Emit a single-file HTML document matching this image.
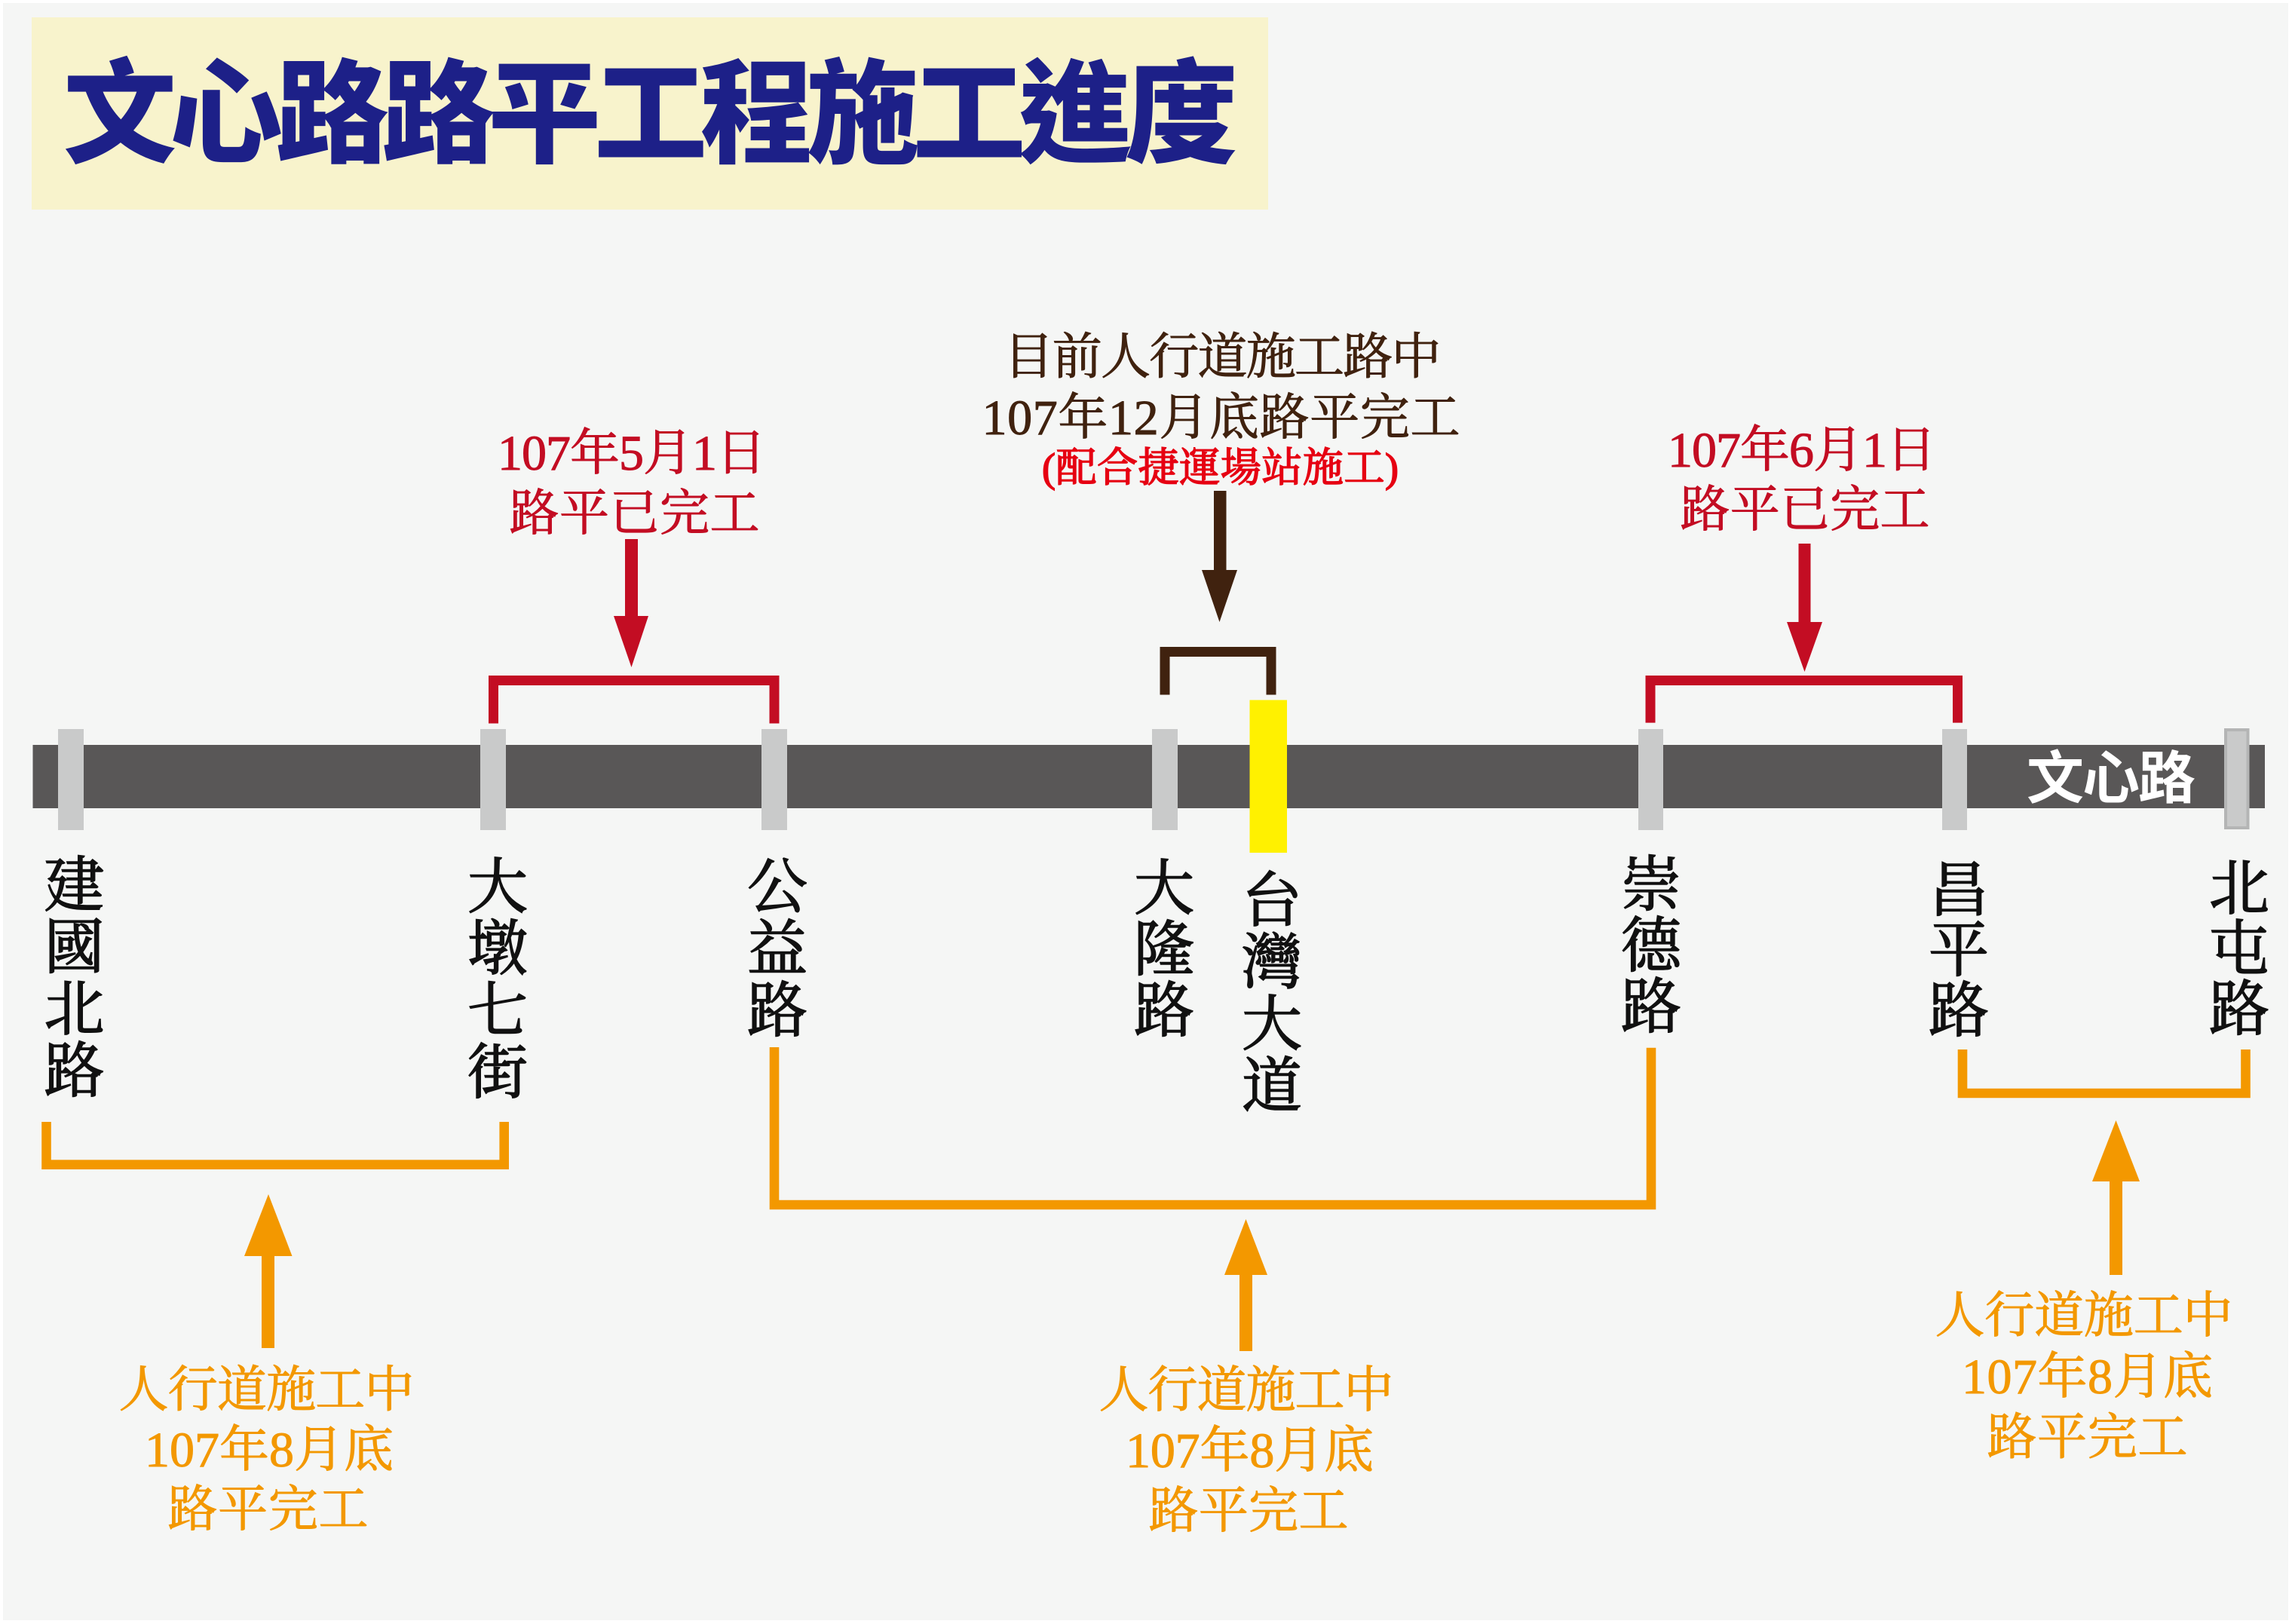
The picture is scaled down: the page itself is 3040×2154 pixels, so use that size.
<!DOCTYPE html>
<html>
<head>
<meta charset="utf-8">
<style>
  html,body{margin:0;padding:0;background:#ffffff;}
  body{width:3040px;height:2154px;overflow:hidden;}
  svg{display:block;}
  .ser{font-family:"Liberation Serif","Noto Serif CJK SC","Noto Sans CJK TC",serif;}
  .sans{font-family:"Liberation Sans","Noto Sans CJK TC",sans-serif;}
</style>
</head>
<body>
<svg width="3040" height="2154" viewBox="0 0 3040 2154" xmlns="http://www.w3.org/2000/svg">
  <!-- background -->
  <rect x="0" y="0" width="3040" height="2154" fill="#ffffff"/>
  <rect x="4" y="4" width="3031" height="2145" fill="#f5f6f5"/>

  <!-- title -->
  <rect x="42" y="23" width="1640" height="255" fill="#f8f3cc"/>
  <text class="sans" x="863" y="204" font-size="150" font-weight="900" fill="#1d2088" text-anchor="middle" textLength="1558" lengthAdjust="spacing">文心路路平工程施工進度</text>

  <!-- main bar -->
  <rect x="43.5" y="988" width="2960.5" height="84" fill="#595757"/>

  <!-- ticks -->
  <g fill="#c9caca">
    <rect x="77" y="967" width="34" height="134"/>
    <rect x="637" y="967" width="34" height="134"/>
    <rect x="1010" y="967" width="34" height="134"/>
    <rect x="1528" y="967" width="34" height="134"/>
    <rect x="2173" y="967" width="33" height="134"/>
    <rect x="2576" y="967" width="33" height="134"/>
  </g>
  <rect x="2952" y="968" width="29.5" height="130" fill="#c9caca" stroke="#b4b5b5" stroke-width="4"/>
  <rect x="1657.5" y="928.5" width="49.5" height="202.5" fill="#fff100"/>

  <text class="sans" x="2800" y="1059" font-size="76" font-weight="700" fill="#ffffff" text-anchor="middle" textLength="224" lengthAdjust="spacing">文心路</text>

  <!-- red brackets -->
  <g fill="none" stroke="#c30d23" stroke-width="13" stroke-linejoin="miter" stroke-linecap="butt">
    <path d="M654.5 959.5 V902.5 H1027 V959.5"/>
    <path d="M2189 958.6 V902.5 H2596.5 V958.6"/>
  </g>
  <!-- red arrows -->
  <g fill="#c30d23">
    <rect x="829" y="715" width="17" height="103"/>
    <polygon points="814,817 860,817 837.5,885"/>
    <rect x="2385.5" y="721" width="16" height="105"/>
    <polygon points="2370,825 2417,825 2393.5,891"/>
  </g>

  <!-- brown bracket & arrow -->
  <path d="M1545 921.5 V864.5 H1686 V921.5" fill="none" stroke="#40220f" stroke-width="13" stroke-linejoin="miter"/>
  <g fill="#40220f">
    <rect x="1610" y="651" width="16.5" height="106"/>
    <polygon points="1594,756 1641,756 1617.5,825"/>
  </g>

  <!-- orange brackets -->
  <g fill="none" stroke="#f39800" stroke-width="12.6" stroke-linejoin="miter" stroke-linecap="butt">
    <path d="M61.5 1488 V1544.7 H668.7 V1488"/>
    <path d="M1027 1389 V1598 H2190 V1389.7"/>
    <path d="M2603 1392 V1450 H2978.5 V1392"/>
  </g>
  <!-- orange arrows -->
  <g fill="#f39800">
    <rect x="347" y="1665" width="17" height="123"/>
    <polygon points="324,1666 387.5,1666 356,1584"/>
    <rect x="1644" y="1690" width="17" height="102"/>
    <polygon points="1624,1691 1681,1691 1652.5,1617"/>
    <rect x="2798" y="1566" width="17" height="125"/>
    <polygon points="2775,1567 2838,1567 2806.5,1486"/>
  </g>

  <!-- red labels -->
  <g class="ser" font-size="66" fill="#c30d23" stroke="#c30d23" stroke-width="1" text-anchor="middle">
    <text x="838" y="623" textLength="356" lengthAdjust="spacing">107年5月1日</text>
    <text x="841.5" y="703" textLength="332" lengthAdjust="spacing">路平已完工</text>
    <text x="2390" y="619" textLength="356" lengthAdjust="spacing">107年6月1日</text>
    <text x="2394" y="698" textLength="331" lengthAdjust="spacing">路平已完工</text>
  </g>

  <!-- brown labels -->
  <g class="ser" font-size="66" fill="#40220f" stroke="#40220f" stroke-width="1" text-anchor="middle">
    <text x="1621.5" y="495.5" textLength="580" lengthAdjust="spacing">目前人行道施工路中</text>
    <text x="1619.5" y="576" textLength="634" lengthAdjust="spacing">107年12月底路平完工</text>
  </g>
  <text class="ser" x="1618.5" y="638.5" font-size="54" font-weight="400" fill="#e60012" stroke="#e60012" stroke-width="1.6" text-anchor="middle" textLength="473" lengthAdjust="spacing">(配合捷運場站施工)</text>

  <!-- orange labels -->
  <g class="ser" font-size="66" fill="#f39800" stroke="#f39800" stroke-width="1" text-anchor="middle">
    <text x="353.5" y="1865.5" textLength="392" lengthAdjust="spacing">人行道施工中</text>
    <text x="357" y="1945" textLength="330" lengthAdjust="spacing">107年8月底</text>
    <text x="355.5" y="2024" textLength="266" lengthAdjust="spacing">路平完工</text>

    <text x="1653" y="1866" textLength="391" lengthAdjust="spacing">人行道施工中</text>
    <text x="1657.5" y="1946" textLength="329" lengthAdjust="spacing">107年8月底</text>
    <text x="1656" y="2026" textLength="265" lengthAdjust="spacing">路平完工</text>

    <text x="2764" y="1767" textLength="395" lengthAdjust="spacing">人行道施工中</text>
    <text x="2768.5" y="1848" textLength="333" lengthAdjust="spacing">107年8月底</text>
    <text x="2768.5" y="1928.5" textLength="266" lengthAdjust="spacing">路平完工</text>
  </g>

  <!-- vertical road labels -->
  <g class="ser" font-size="80" fill="#111111" stroke="#111111" stroke-width="1.6" text-anchor="middle">
    <text x="98.5" y="1202">建</text>
    <text x="98.5" y="1284">國</text>
    <text x="98.5" y="1366">北</text>
    <text x="98.5" y="1448">路</text>

    <text x="660" y="1204">大</text>
    <text x="660" y="1286">墩</text>
    <text x="660" y="1368">七</text>
    <text x="660" y="1450">街</text>

    <text x="1031" y="1204">公</text>
    <text x="1031" y="1286">益</text>
    <text x="1031" y="1368">路</text>

    <text x="1544" y="1206">大</text>
    <text x="1544" y="1287">隆</text>
    <text x="1544" y="1368">路</text>

    <text x="1687" y="1222">台</text>
    <text x="1687" y="1304">灣</text>
    <text x="1687" y="1386">大</text>
    <text x="1687" y="1468">道</text>

    <text x="2190" y="1201">崇</text>
    <text x="2190" y="1282">德</text>
    <text x="2190" y="1363">路</text>

    <text x="2598" y="1208">昌</text>
    <text x="2598" y="1288">平</text>
    <text x="2598" y="1368">路</text>

    <text x="2970" y="1206">北</text>
    <text x="2970" y="1286">屯</text>
    <text x="2970" y="1366">路</text>
  </g>
</svg>
</body>
</html>
